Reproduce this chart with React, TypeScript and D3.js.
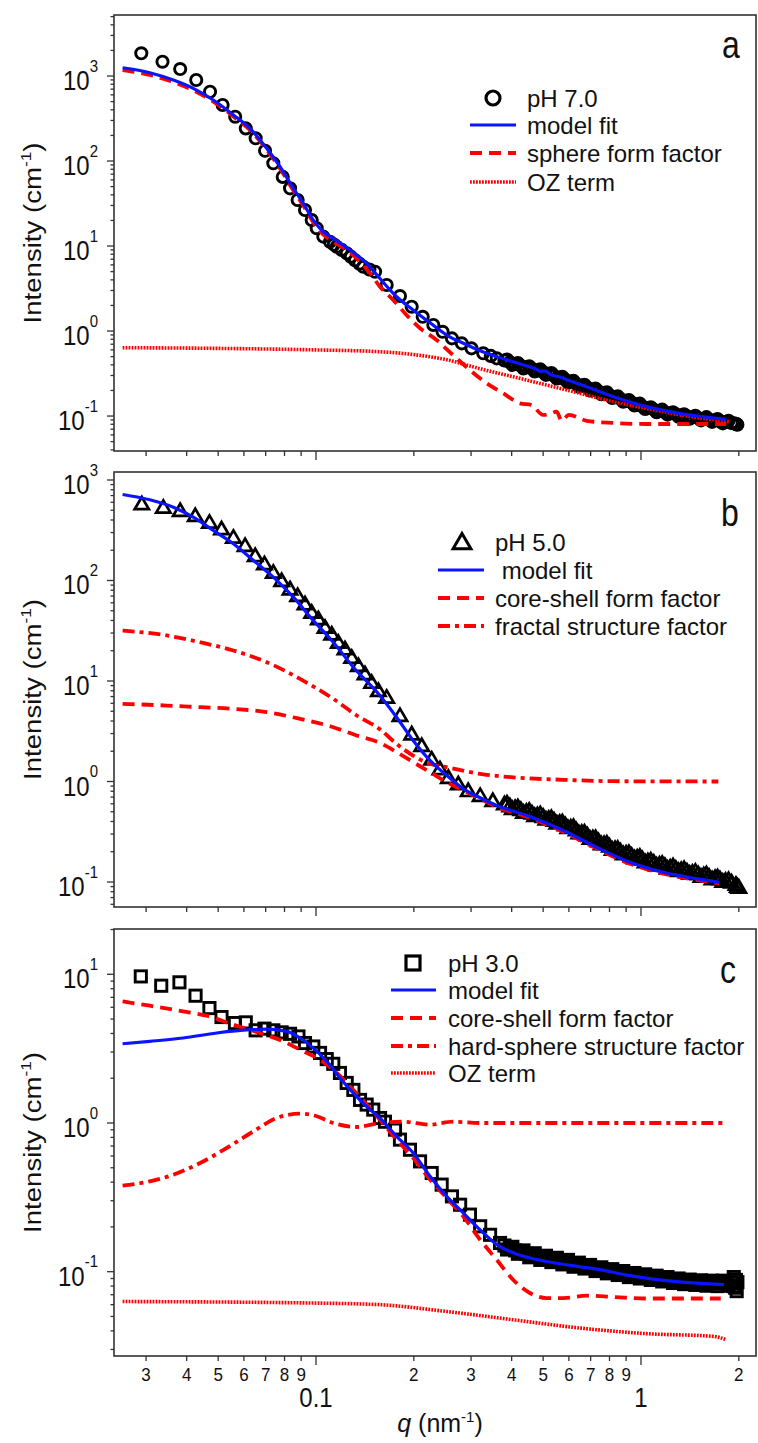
import React from "react";
import * as d3 from "d3";

type Pt = [number, number];

// ---------------- DATA ----------------
// Panel a : pH 7.0
const pH7Points: Pt[] = [
  [0.029, 1850], [0.0337, 1473], [0.0382, 1208], [0.0428, 897], [0.0472, 653], [0.0516, 456],
  [0.0564, 332], [0.0608, 242], [0.0652, 185], [0.0697, 132], [0.0739, 94], [0.079, 65],
  [0.0832, 47.7], [0.0878, 34.8], [0.0925, 26.5], [0.097, 20.2], [0.1005, 16.2], [0.1053, 12.9],
  [0.1104, 11.2], [0.1135, 10.4], [0.1158, 9.8], [0.12, 9.0], [0.1243, 8.2], [0.128, 7.5],
  [0.1318, 6.8], [0.136, 6.2], [0.1398, 5.7], [0.146, 5.3], [0.152, 4.98], [0.165, 3.48],
  [0.1813, 2.58], [0.197, 1.93], [0.213, 1.47], [0.2296, 1.18], [0.2452, 0.98], [0.262, 0.82],
  [0.281, 0.716], [0.301, 0.625], [0.327, 0.547], [0.345, 0.51], [0.36, 0.477],
  [0.38, 0.45], [0.395, 0.43], [0.41, 0.41], [0.427, 0.39], [0.444, 0.375], [0.462, 0.36],
  [0.48, 0.345], [0.5, 0.33], [0.52, 0.312], [0.54, 0.298], [0.562, 0.283], [0.585, 0.268],
  [0.608, 0.254], [0.632, 0.24], [0.657, 0.228], [0.684, 0.216], [0.711, 0.205], [0.74, 0.195],
  [0.77, 0.186], [0.8, 0.176], [0.832, 0.167], [0.865, 0.159], [0.9, 0.151], [0.936, 0.144],
  [0.974, 0.137], [1.01, 0.13], [1.05, 0.124], [1.095, 0.119], [1.14, 0.115], [1.185, 0.111],
  [1.23, 0.108], [1.28, 0.105], [1.33, 0.102], [1.385, 0.099], [1.44, 0.097], [1.5, 0.095],
  [1.56, 0.093], [1.62, 0.091], [1.69, 0.089], [1.75, 0.087], [1.82, 0.085], [1.9, 0.083],
  [1.93, 0.082], [1.96, 0.081], [1.97, 0.08], [1.98, 0.079],
  [0.387, 0.462], [0.402, 0.4], [0.418, 0.42], [0.435, 0.363], [0.453, 0.385], [0.471, 0.335],
  [0.49, 0.354], [0.51, 0.305], [0.53, 0.32], [0.551, 0.276], [0.573, 0.289], [0.596, 0.248],
  [0.62, 0.259], [0.644, 0.222], [0.67, 0.233], [0.697, 0.2], [0.725, 0.21], [0.755, 0.181],
  [0.785, 0.19], [0.816, 0.163], [0.848, 0.171], [0.882, 0.147], [0.918, 0.154], [0.955, 0.133],
  [0.992, 0.14], [1.03, 0.121], [1.072, 0.127], [1.117, 0.111], [1.162, 0.119], [1.207, 0.104],
  [1.255, 0.111], [1.305, 0.098], [1.357, 0.105], [1.412, 0.093], [1.47, 0.101], [1.53, 0.089],
  [1.59, 0.097], [1.655, 0.0855], [1.72, 0.0925], [1.785, 0.082], [1.86, 0.088],
];
const fitA: Pt[] = [
  [0.0254, 1252], [0.0308, 1094], [0.0364, 897], [0.0419, 716], [0.0483, 522], [0.0557, 348],
  [0.0626, 242], [0.0705, 141], [0.0775, 85.7], [0.0852, 47.7], [0.0914, 31.8], [0.0981, 20.2],
  [0.1053, 14.7], [0.113, 12.3], [0.1273, 8.97], [0.1432, 6.26], [0.1556, 4.35], [0.1771, 2.53],
  [0.199, 1.77], [0.2243, 1.25], [0.2524, 0.897], [0.2841, 0.717], [0.32, 0.587], [0.36, 0.499],
  [0.4356, 0.398], [0.48, 0.35], [0.49, 0.335], [0.505, 0.34], [0.53, 0.305], [0.56, 0.29],
  [0.6, 0.262], [0.6485, 0.236], [0.822, 0.169], [1.04, 0.129], [1.32, 0.107], [1.83, 0.0914],
];
const sphereA: Pt[] = [
  [0.0254, 1175], [0.0308, 1030], [0.0364, 850], [0.0419, 680], [0.0483, 500], [0.0557, 335],
  [0.0626, 232], [0.0705, 136], [0.0775, 82], [0.0852, 45], [0.0914, 30], [0.0981, 19],
  [0.1053, 13.6], [0.113, 11.3], [0.1273, 8.4], [0.1466, 4.8], [0.1574, 3.32], [0.1728, 2.32],
  [0.19, 1.54], [0.209, 1.08], [0.235, 0.784], [0.264, 0.522], [0.2976, 0.348], [0.335, 0.243],
  [0.377, 0.185], [0.424, 0.141], [0.46, 0.135], [0.5, 0.103], [0.53, 0.108], [0.55, 0.113],
  [0.57, 0.088], [0.6, 0.103], [0.68, 0.088], [0.82, 0.083], [1.04, 0.0806], [1.32, 0.0806],
  [1.83, 0.0806],
];
const ozA: Pt[] = [
  [0.0254, 0.637], [0.05, 0.625], [0.1, 0.6], [0.1574, 0.571], [0.199, 0.53], [0.2524, 0.46],
  [0.32, 0.36], [0.404, 0.29], [0.512, 0.232], [0.6485, 0.185], [0.822, 0.147], [1.04, 0.123],
  [1.32, 0.103], [1.88, 0.0857],
];

// Panel b : pH 5.0
const pH5Points: Pt[] = [
  [0.0291, 580], [0.0339, 536], [0.0382, 497], [0.0425, 443], [0.047, 380], [0.0512, 327],
  [0.0557, 270], [0.0605, 223], [0.065, 177], [0.0694, 147], [0.0739, 121], [0.0784, 100],
  [0.0832, 82.6], [0.0878, 71], [0.0925, 58.6], [0.097, 48.4], [0.1017, 41.6], [0.1066, 34.3],
  [0.1118, 29.4], [0.1171, 24.3], [0.1228, 20.9], [0.1288, 17.2], [0.135, 14.3], [0.1415, 11.8],
  [0.1483, 9.7], [0.1556, 8.04], [0.165, 6.9], [0.1813, 4.54], [0.197, 2.98], [0.2115, 2.28],
  [0.227, 1.68], [0.2407, 1.34], [0.2555, 1.1], [0.274, 0.948], [0.294, 0.813], [0.32, 0.726],
  [0.35, 0.647],
  [0.38, 0.6], [0.395, 0.575], [0.41, 0.55], [0.427, 0.527], [0.444, 0.507], [0.462, 0.487],
  [0.48, 0.468], [0.5, 0.45], [0.52, 0.432], [0.54, 0.413], [0.562, 0.393], [0.585, 0.372],
  [0.608, 0.352], [0.632, 0.332], [0.657, 0.312], [0.684, 0.293], [0.711, 0.275], [0.74, 0.258],
  [0.77, 0.242], [0.8, 0.228], [0.832, 0.215], [0.865, 0.204], [0.9, 0.194], [0.936, 0.185],
  [0.974, 0.177], [1.01, 0.17], [1.05, 0.163], [1.095, 0.157], [1.14, 0.151], [1.185, 0.146],
  [1.23, 0.141], [1.28, 0.137], [1.33, 0.133], [1.385, 0.129], [1.44, 0.125], [1.5, 0.121],
  [1.56, 0.118], [1.62, 0.114], [1.69, 0.111], [1.75, 0.108], [1.82, 0.104], [1.9, 0.1],
  [1.96, 0.095], [1.98, 0.091], [2.0, 0.089],
  [0.387, 0.61], [0.402, 0.54], [0.418, 0.56], [0.435, 0.496], [0.453, 0.517], [0.471, 0.458],
  [0.49, 0.477], [0.51, 0.423], [0.53, 0.439], [0.551, 0.387], [0.573, 0.397], [0.596, 0.348],
  [0.62, 0.356], [0.644, 0.309], [0.67, 0.314], [0.697, 0.273], [0.725, 0.277], [0.755, 0.24],
  [0.785, 0.244], [0.816, 0.212], [0.848, 0.217], [0.882, 0.191], [0.918, 0.197], [0.955, 0.174],
  [0.992, 0.18], [1.03, 0.159], [1.072, 0.166], [1.117, 0.148], [1.162, 0.154], [1.207, 0.137],
  [1.255, 0.145], [1.305, 0.13], [1.357, 0.136], [1.412, 0.122], [1.47, 0.128], [1.53, 0.114],
  [1.59, 0.121], [1.655, 0.108], [1.72, 0.113], [1.785, 0.102], [1.86, 0.106],
];
const fitB: Pt[] = [
  [0.0254, 718], [0.0308, 635], [0.0364, 536], [0.0419, 426], [0.0483, 315], [0.0557, 232],
  [0.0642, 158], [0.0739, 108], [0.0852, 68.2], [0.0981, 40], [0.113, 24.3], [0.1303, 13.7],
  [0.1556, 7.46], [0.177, 4.36], [0.199, 2.56], [0.2243, 1.62], [0.2524, 1.15], [0.2841, 0.846],
  [0.32, 0.689], [0.36, 0.577], [0.455, 0.449], [0.5775, 0.325], [0.73, 0.222], [0.925, 0.157],
  [1.17, 0.125], [1.48, 0.108], [1.74, 0.0995],
];
const coreShellB: Pt[] = [
  [0.0254, 5.93], [0.0347, 5.7], [0.044, 5.49], [0.0557, 5.29], [0.0705, 4.9], [0.0893, 4.2],
  [0.113, 3.47], [0.1334, 2.87], [0.1574, 2.42], [0.177, 1.96], [0.199, 1.56], [0.2243, 1.24],
  [0.2524, 0.985], [0.2915, 0.783], [0.32, 0.67], [0.36, 0.56], [0.455, 0.435], [0.5775, 0.315],
  [0.73, 0.215], [0.925, 0.152], [1.17, 0.121], [1.48, 0.105], [1.74, 0.097],
];
const fractalB: Pt[] = [
  [0.0254, 31.8], [0.0347, 28.4], [0.044, 24.3], [0.0557, 20.1], [0.0705, 15.4], [0.0893, 10.5],
  [0.113, 6.65], [0.1334, 4.54], [0.1574, 3.3], [0.177, 2.37], [0.199, 1.81], [0.2243, 1.5],
  [0.2524, 1.39], [0.32, 1.19], [0.404, 1.1], [0.5775, 1.04], [0.822, 1.007], [1.73, 1.0],
];

// Panel c : pH 3.0
const pH3Points: Pt[] = [
  [0.0289, 9.68], [0.0334, 8.38], [0.038, 8.83], [0.0426, 7.18], [0.047, 5.93], [0.0512, 5.16],
  [0.0563, 4.7], [0.0608, 4.75], [0.0652, 4.2], [0.0694, 4.31], [0.0739, 4.2], [0.0784, 4.07],
  [0.0832, 3.98], [0.0883, 3.82], [0.0925, 3.45], [0.0981, 3.27], [0.1029, 2.96], [0.1079, 2.69],
  [0.113, 2.5], [0.1185, 2.17], [0.1243, 1.86], [0.1303, 1.67], [0.1366, 1.43], [0.1432, 1.33],
  [0.15, 1.23], [0.1574, 1.08], [0.163, 1.02], [0.175, 0.902], [0.1813, 0.773], [0.1946, 0.661],
  [0.209, 0.552], [0.227, 0.461], [0.2436, 0.385], [0.262, 0.321], [0.2776, 0.282], [0.2976, 0.242],
  [0.32, 0.202], [0.3433, 0.177], [0.3684, 0.156],
  [0.38, 0.15], [0.395, 0.144], [0.41, 0.139], [0.427, 0.135], [0.444, 0.132], [0.462, 0.129],
  [0.48, 0.126], [0.5, 0.124], [0.52, 0.122], [0.54, 0.12], [0.562, 0.118], [0.585, 0.116],
  [0.608, 0.114], [0.632, 0.112], [0.657, 0.11], [0.684, 0.108], [0.711, 0.106], [0.74, 0.104],
  [0.77, 0.102], [0.8, 0.101], [0.832, 0.0995], [0.865, 0.098], [0.9, 0.0965], [0.936, 0.095],
  [0.974, 0.094], [1.01, 0.093], [1.05, 0.092], [1.095, 0.091], [1.14, 0.09], [1.185, 0.089],
  [1.23, 0.088], [1.28, 0.087], [1.33, 0.086], [1.385, 0.0855], [1.44, 0.085], [1.5, 0.0845],
  [1.56, 0.084], [1.62, 0.0838], [1.69, 0.0835], [1.75, 0.0835], [1.82, 0.0838], [1.9, 0.084],
  [1.92, 0.08], [1.93, 0.092], [1.95, 0.078], [1.96, 0.088], [1.97, 0.074], [1.98, 0.085],
  [0.387, 0.141], [0.402, 0.147], [0.418, 0.132], [0.435, 0.139], [0.453, 0.125], [0.471, 0.133],
  [0.49, 0.12], [0.51, 0.128], [0.53, 0.116], [0.551, 0.124], [0.573, 0.112], [0.596, 0.12],
  [0.62, 0.108], [0.644, 0.115], [0.67, 0.105], [0.697, 0.111], [0.725, 0.101], [0.755, 0.107],
  [0.785, 0.0975], [0.816, 0.104], [0.848, 0.095], [0.882, 0.101], [0.918, 0.092], [0.955, 0.098],
  [0.992, 0.09], [1.03, 0.096], [1.072, 0.088], [1.117, 0.094], [1.162, 0.086], [1.207, 0.092],
  [1.255, 0.084], [1.305, 0.09], [1.357, 0.0825], [1.412, 0.0885], [1.47, 0.0815], [1.53, 0.0875],
  [1.59, 0.0805], [1.655, 0.087], [1.72, 0.08], [1.785, 0.087], [1.86, 0.0805],
];
const fitC: Pt[] = [
  [0.0254, 3.41], [0.0308, 3.54], [0.039, 3.73], [0.0495, 4.03], [0.0626, 4.24], [0.0705, 4.28],
  [0.0812, 4.13], [0.0893, 3.73], [0.0981, 3.19], [0.1079, 2.6], [0.1185, 2.01], [0.1303, 1.59],
  [0.1432, 1.29], [0.1574, 1.08], [0.177, 0.813], [0.199, 0.629], [0.2243, 0.438], [0.2524, 0.321],
  [0.2841, 0.248], [0.32, 0.191], [0.36, 0.152], [0.404, 0.134], [0.512, 0.117], [0.6485, 0.108],
  [0.73, 0.104], [0.925, 0.094], [1.17, 0.0874], [1.48, 0.0838], [1.8, 0.0818],
];
const coreShellC: Pt[] = [
  [0.0254, 6.57], [0.0308, 6.15], [0.039, 5.63], [0.046, 5.27], [0.0557, 4.58], [0.0671, 4.03],
  [0.0794, 3.54], [0.0893, 3.11], [0.1005, 2.74], [0.113, 2.28], [0.1273, 1.76], [0.1432, 1.33],
  [0.1574, 1.05], [0.177, 0.773], [0.199, 0.582], [0.2243, 0.416], [0.2524, 0.313], [0.2841, 0.235],
  [0.32, 0.164], [0.36, 0.12], [0.404, 0.0883], [0.455, 0.0719], [0.512, 0.0665], [0.5775, 0.0665],
  [0.68, 0.069], [0.822, 0.0676], [1.04, 0.066], [1.76, 0.066],
];
const hardSphereC: Pt[] = [
  [0.0254, 0.379], [0.0308, 0.405], [0.0364, 0.449], [0.044, 0.538], [0.0531, 0.679], [0.0642, 0.879],
  [0.0757, 1.08], [0.0893, 1.155], [0.1005, 1.11], [0.113, 1.0], [0.1334, 0.94], [0.1574, 1.0],
  [0.1857, 1.02], [0.2243, 0.974], [0.264, 1.02], [0.32, 1.0], [1.83, 1.0],
];
const ozC: Pt[] = [
  [0.0254, 0.063], [0.1, 0.0615], [0.1574, 0.06], [0.2524, 0.054], [0.404, 0.0475], [0.6485, 0.0418],
  [1.04, 0.0383], [1.67, 0.0367], [1.83, 0.0349],
];

// Legends / labels
const legendA = ["pH 7.0", "model fit", "sphere form factor", "OZ term"];
const legendB = ["pH 5.0", "\u00A0model fit", "core-shell form factor", "fractal structure factor"];
const legendC = ["pH 3.0", "model fit", "core-shell form factor", "hard-sphere structure factor", "OZ term"];
const panelLetters = ["a", "b", "c"];
const yExponentsA = [-1, 0, 1, 2, 3];
const yExponentsB = [-1, 0, 1, 2, 3];
const yExponentsC = [-1, 0, 1];
const xMajorTickValues = [0.1, 1];
const xMajorTickLabels = ["0.1", "1"];
const xMinorTickLabels = ["2", "3", "4", "5", "6", "7", "8", "9"];

// ---------------- STYLE / LAYOUT ----------------
const FONT = "'Liberation Sans', Arial, Helvetica, sans-serif";
const BLUE = "#0a14ff";
const RED = "#ff0000";
const AXIS = "#333";
const PLOT_L = 114;
const PLOT_R = 756;

type Style = "solid" | "dash" | "dashdot" | "dot";
const styleProps = (s: Style) => {
  if (s === "solid") return { stroke: BLUE, strokeWidth: 3.2, strokeDasharray: undefined };
  if (s === "dash") return { stroke: RED, strokeWidth: 3.8, strokeDasharray: "12,7" };
  if (s === "dashdot") return { stroke: RED, strokeWidth: 3.8, strokeDasharray: "12,5,4,5" };
  return { stroke: RED, strokeWidth: 3.6, strokeDasharray: "1.8,1.2" };
};

type Marker = "circle" | "triangle" | "square";

function MarkerShape({ kind, x, y, big }: { kind: Marker; x: number; y: number; big?: boolean }) {
  const s = big ? 1.25 : 1;
  const sw = big ? 3.2 : 2.9;
  if (kind === "circle")
    return <circle cx={x} cy={y} r={5.6 * s} fill="none" stroke="#000" strokeWidth={sw} />;
  if (kind === "triangle") {
    const h = 6.8 * s;
    return (
      <path
        d={`M${x},${y - h} L${x + h * 1.05},${y + h * 0.8} L${x - h * 1.05},${y + h * 0.8} Z`}
        fill="none"
        stroke="#000"
        strokeWidth={sw - 0.2}
        strokeLinejoin="miter"
      />
    );
  }
  const a = 5.6 * s;
  return <rect x={x - a} y={y - a} width={2 * a} height={2 * a} fill="none" stroke="#000" strokeWidth={sw} />;
}

interface PanelDef {
  top: number;
  bottom: number;
  yDomain: [number, number];
  exps: number[];
  points: Pt[];
  marker: Marker;
  curves: { data: Pt[]; style: Style }[];
  legend: string[];
  legendStyles: Style[];
  legendX: { line0: number; line1: number; marker: number; text: number };
  legendY: number[];
  letter: string;
  letterPos: [number, number];
  xLabels: boolean;
}

const panels: PanelDef[] = [
  {
    top: 15, bottom: 451, yDomain: [0.0388, 5220], exps: yExponentsA, points: pH7Points, marker: "circle",
    curves: [
      { data: ozA, style: "dot" },
      { data: sphereA, style: "dash" },
      { data: fitA, style: "solid" },
    ],
    legend: legendA, legendStyles: ["solid", "dash", "dot"],
    legendX: { line0: 470, line1: 516, marker: 493, text: 527 },
    legendY: [98, 125, 153, 182],
    letter: panelLetters[0], letterPos: [731, 58], xLabels: false,
  },
  {
    top: 472, bottom: 907, yDomain: [0.0564, 1201], exps: yExponentsB, points: pH5Points, marker: "triangle",
    curves: [
      { data: fractalB, style: "dashdot" },
      { data: coreShellB, style: "dash" },
      { data: fitB, style: "solid" },
    ],
    legend: legendB, legendStyles: ["solid", "dash", "dashdot"],
    legendX: { line0: 438, line1: 484, marker: 462, text: 495 },
    legendY: [542, 570, 598, 626],
    letter: panelLetters[1], letterPos: [730, 526], xLabels: false,
  },
  {
    top: 929, bottom: 1356, yDomain: [0.0271, 20.17], exps: yExponentsC, points: pH3Points, marker: "square",
    curves: [
      { data: ozC, style: "dot" },
      { data: hardSphereC, style: "dashdot" },
      { data: coreShellC, style: "dash" },
      { data: fitC, style: "solid" },
    ],
    legend: legendC, legendStyles: ["solid", "dash", "dashdot", "dot"],
    legendX: { line0: 391, line1: 436, marker: 413, text: 448 },
    legendY: [963, 990, 1018, 1046, 1073],
    letter: panelLetters[2], letterPos: [728, 983], xLabels: true,
  },
];

const x = d3.scaleLog().domain([0.0239, 2.259]).range([PLOT_L, PLOT_R]);

function logTicks(lo: number, hi: number) {
  const out: { v: number; k: number; d: number }[] = [];
  for (let d = Math.floor(Math.log10(lo)); d <= Math.ceil(Math.log10(hi)); d++) {
    for (let k = 1; k <= 9; k++) {
      const v = k * Math.pow(10, d);
      if (v >= lo * 0.999 && v <= hi * 1.001) out.push({ v, k, d });
    }
  }
  return out;
}

function Panel({ p }: { p: PanelDef }) {
  const y = d3.scaleLog().domain(p.yDomain).range([p.bottom, p.top]);
  const line = d3
    .line<Pt>()
    .x((d) => x(d[0]))
    .y((d) => y(d[1]))
    .curve(d3.curveMonotoneX);
  const yt = logTicks(p.yDomain[0], p.yDomain[1]);
  const xt = logTicks(x.domain()[0], x.domain()[1]);
  const cy = (p.top + p.bottom) / 2;
  const clipId = `clip-${p.letter}`;
  const pts = [...p.points].sort((a, b) => a[0] - b[0]);
  return (
    <g>
      <defs>
        <clipPath id={clipId}>
          <rect x={PLOT_L} y={p.top} width={PLOT_R - PLOT_L} height={p.bottom - p.top} />
        </clipPath>
      </defs>
      {/* data */}
      <g clipPath={`url(#${clipId})`}>
        {pts.map((d, i) => (
          <MarkerShape key={i} kind={p.marker} x={x(d[0])} y={y(d[1])} />
        ))}
        {p.curves.map((c, i) => {
          const sp = styleProps(c.style);
          return (
            <path key={i} d={line(c.data) || ""} fill="none" stroke={sp.stroke} strokeWidth={sp.strokeWidth}
              strokeDasharray={sp.strokeDasharray} />
          );
        })}
      </g>
      {/* frame */}
      <rect x={PLOT_L} y={p.top} width={PLOT_R - PLOT_L} height={p.bottom - p.top} fill="none" stroke={AXIS} strokeWidth={1.6} />
      {/* y ticks */}
      {yt.map((t, i) => (
        <line key={i} x1={PLOT_L - (t.k === 1 ? 7 : 3.5)} x2={PLOT_L} y1={y(t.v)} y2={y(t.v)} stroke={AXIS} strokeWidth={1.3} />
      ))}
      {p.exps.map((e) => (
        <text key={e} transform={`translate(98,${y(Math.pow(10, e)) + 14}) scale(1,1.15)`} textAnchor="end"
          fontFamily={FONT} fontSize={24} fill="#111">
          10<tspan dy={-16} fontSize={15}>{String(e)}</tspan>
        </text>
      ))}
      {/* x ticks */}
      {xt.map((t, i) => (
        <line key={i} x1={x(t.v)} x2={x(t.v)} y1={p.bottom} y2={p.bottom + (t.k === 1 ? 9 : 5)} stroke={AXIS} strokeWidth={1.3} />
      ))}
      {p.xLabels &&
        xt.map((t, i) => {
          if (t.k === 1) {
            const idx = xMajorTickValues.findIndex((v) => Math.abs(v - t.v) < 1e-9);
            if (idx < 0) return null;
            return (
              <text key={i} transform={`translate(${x(t.v)},${p.bottom + 51}) scale(1,1.12)`} textAnchor="middle"
                fontFamily={FONT} fontSize={24} fill="#111">
                {xMajorTickLabels[idx]}
              </text>
            );
          }
          return (
            <text key={i} transform={`translate(${x(t.v)},${p.bottom + 25}) scale(1,1.1)`} textAnchor="middle"
              fontFamily={FONT} fontSize={17} fill="#111">
              {xMinorTickLabels[t.k - 2]}
            </text>
          );
        })}
      {/* y title */}
      <text transform={`translate(41,${cy}) rotate(-90) scale(1.15,1)`} textAnchor="middle" fontFamily={FONT} fontSize={24} fill="#111">
        Intensity (cm<tspan dy={-10} fontSize={15}>-1</tspan><tspan dy={10}>)</tspan>
      </text>
      {/* panel letter */}
      <text transform={`translate(${p.letterPos[0]},${p.letterPos[1]}) scale(1,1.2)`} textAnchor="middle" fontFamily={FONT} fontSize={32} fill="#111">
        {p.letter}
      </text>
      {/* legend */}
      {p.legend.map((label, i) => {
        const ly = p.legendY[i];
        let sample: React.ReactNode;
        if (i === 0) sample = <MarkerShape kind={p.marker} x={p.legendX.marker} y={ly} big />;
        else {
          const sp = styleProps(p.legendStyles[i - 1]);
          sample = (
            <line x1={p.legendX.line0} x2={p.legendX.line1} y1={ly} y2={ly} stroke={sp.stroke} strokeWidth={sp.strokeWidth}
              strokeDasharray={sp.strokeDasharray} />
          );
        }
        return (
          <g key={i}>
            {sample}
            <text x={p.legendX.text} y={ly + 8.5} fontFamily={FONT} fontSize={24} fill="#111">{label}</text>
          </g>
        );
      })}
    </g>
  );
}

export default function App() {
  return (
    <svg width={758} height={1443} viewBox="0 0 758 1443" style={{ position: "absolute", left: 0, top: 0, background: "#fff" }}>
      <rect x={0} y={0} width={758} height={1443} fill="#fff" />
      {panels.map((p, i) => (
        <Panel key={i} p={p} />
      ))}
      <text x={440} y={1432} textAnchor="middle" fontFamily={FONT} fontSize={25} fill="#111">
        <tspan fontStyle="italic">q</tspan> (nm<tspan dy={-10} fontSize={15}>-1</tspan><tspan dy={10}>)</tspan>
      </text>
    </svg>
  );
}
